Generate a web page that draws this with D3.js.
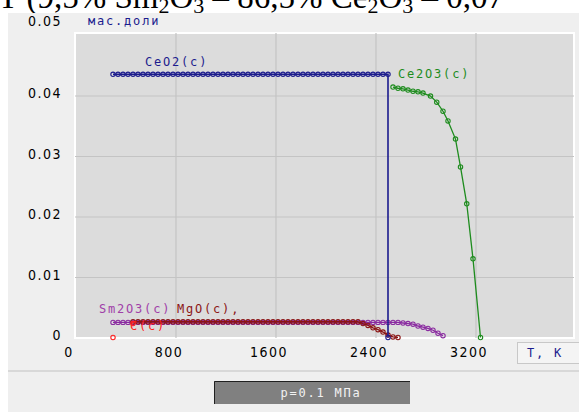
<!DOCTYPE html>
<html><head><meta charset="utf-8">
<script src="https://cdn.jsdelivr.net/npm/d3@7"></script>
<style>
html,body{margin:0;padding:0;background:#fff;}
svg{display:block;}
.px{font-family:"DejaVu Sans Mono",monospace;font-size:12px;letter-spacing:1.8px;}
.tick text{font-family:"Liberation Sans Narrow","DejaVu Sans Condensed","Liberation Sans",sans-serif;font-stretch:condensed;font-size:14px;fill:#000;letter-spacing:1.5px;}
</style></head>
<body>
<svg id="c" width="579" height="412"></svg>
<script>
// ---- data ----
const xTicks = [0, 800, 1600, 2400, 3200];
const yTicks = [0, 0.01, 0.02, 0.03, 0.04, 0.05];

const ceo2T = [300,340,380,420,460,500,540,580,620,660,700,740,780,820,860,900,940,980,1020,1060,1100,1140,1180,1220,1260,1300,1340,1380,1420,1460,1500,1540,1580,1620,1660,1700,1740,1780,1820,1860,1900,1940,1980,2020,2060,2100,2140,2180,2220,2260,2300,2340,2380,2420,2460,2500,2500];
const ceo2V = [0.0435,0.0435,0.0435,0.0435,0.0435,0.0435,0.0435,0.0435,
               0.0435,0.0435,0.0435,0.0435,0.0435,0.0435,0.0435,0.0435,
               0.0435,0.0435,0.0435,0.0435,0.0435,0.0435,0.0435,0.0435,
               0.0435,0.0435,0.0435,0.0435,0.0435,0.0435,0.0435,0.0435,
               0.0435,0.0435,0.0435,0.0435,0.0435,0.0435,0.0435,0.0435,
               0.0435,0.0435,0.0435,0.0435,0.0435,0.0435,0.0435,0.0435,
               0.0435,0.0435,0.0435,0.0435,0.0435,0.0435,0.0435,0.0435,0];

const ce2o3T = [2540,2580,2620,2660,2700,2740,2780,2840,2890,2940,2980,3040,3080,3130,3180,3240];
const ce2o3V = [0.0414,0.0412,0.0411,0.0409,0.0407,0.0406,0.0404,0.0399,0.0389,0.0374,0.0358,0.0328,0.0282,0.0221,0.0130,0.0];

const sm2o3T = [300,340,380,420,460,500,540,580,620,660,700,740,780,820,860,900,940,980,1020,1060,1100,1140,1180,1220,1260,1300,1340,1380,1420,1460,1500,1540,1580,1620,1660,1700,1740,1780,1820,1860,1900,1940,1980,2020,2060,2100,2140,2180,2220,2260,2300,2340,2380,2420,2460,2500,2540,2580,2620,2660,2700,2740,2780,2820,2860,2900,2940];
const sm2o3V = [0.0025,0.0025,0.0025,0.0025,0.0025,0.0025,0.0025,0.0025,
                0.0025,0.0025,0.0025,0.0025,0.0025,0.0025,0.0025,0.0025,
                0.0025,0.0025,0.0025,0.0025,0.0025,0.0025,0.0025,0.0025,
                0.0025,0.0025,0.0025,0.0025,0.0025,0.0025,0.0025,0.0025,
                0.0025,0.0025,0.0025,0.0025,0.0025,0.0025,0.0025,0.0025,
                0.0025,0.0025,0.0025,0.0025,0.0025,0.0025,0.0025,0.0025,
                0.0025,0.0025,0.0025,0.0025,0.0025,0.0025,0.0025,0.0025,
                0.0025,0.0025,0.0024,0.0023,0.0022,0.0019,0.0017,0.0015,0.0012,0.0007,0.0003];

const mgoT = [460,500,540,580,620,660,700,740,780,820,860,900,940,980,1020,1060,1100,1140,1180,1220,1260,1300,1340,1380,1420,1460,1500,1540,1580,1620,1660,1700,1740,1780,1820,1860,1900,1940,1980,2020,2060,2100,2140,2180,2220,2260,2300,2340,2380,2420,2460,2500,2540,2580];
const mgoV = [0.0026,0.0026,0.0026,0.0026,0.0026,0.0026,0.0026,0.0026,
              0.0026,0.0026,0.0026,0.0026,0.0026,0.0026,0.0026,0.0026,
              0.0026,0.0026,0.0026,0.0026,0.0026,0.0026,0.0026,0.0026,
              0.0026,0.0026,0.0026,0.0026,0.0026,0.0026,0.0026,0.0026,
              0.0026,0.0026,0.0026,0.0026,0.0026,0.0026,0.0026,0.0026,
              0.0026,0.0026,0.0026,0.0026,0.0026,0.0026,
              0.0023,0.0020,0.0016,0.0013,0.0009,0.0004,0.0001,0.0];

const cT = [300, 460];
const cV = [0.0, 0.0023];

// ---- layout ----
const svg = d3.select("#c");
const plot = {l:75, t:33, r:574, b:338};
const x = d3.scaleLinear().domain([0, 4000]).range([75.5, 575.5]);
const y = d3.scaleLinear().domain([0, 0.05]).range([337.5, 35]);

// title fragment (cut off at top)
const title = svg.append("text").attr("x", -2).attr("y", 8)
  .attr("font-family", "Liberation Serif, serif").attr("font-size", 33).attr("fill", "#000");
title.append("tspan").text("Т (9,5% Sm");
title.append("tspan").attr("font-size", 22).attr("dy", 5).text("2");
title.append("tspan").attr("dy", -5).text("O");
title.append("tspan").attr("font-size", 22).attr("dy", 5).text("3");
title.append("tspan").attr("dy", -5).text(" – 86,5% Ce");
title.append("tspan").attr("font-size", 22).attr("dy", 5).text("2");
title.append("tspan").attr("dy", -5).text("O");
title.append("tspan").attr("font-size", 22).attr("dy", 5).text("3");
title.append("tspan").attr("dy", -5).text(" – 0,07");

// panel
svg.append("rect").attr("x", 8).attr("y", 13).attr("width", 571).attr("height", 399).attr("fill", "#efefef");
// plot area
svg.append("rect").attr("x", plot.l).attr("y", plot.t).attr("width", plot.r - plot.l).attr("height", plot.b - plot.t)
  .attr("fill", "#dcdcdc").attr("stroke", "#ffffff").attr("stroke-width", 2);

// grid
const gx = svg.append("g").attr("transform", `translate(0,${plot.b})`)
  .call(d3.axisBottom(x).tickValues(xTicks.slice(1)).tickSize(-(plot.b - plot.t)).tickFormat(""));
gx.select(".domain").remove();
gx.selectAll("line").attr("stroke", "#c4c4c4").attr("stroke-width", 1.2);
const gy = svg.append("g").attr("transform", `translate(${plot.l},0)`)
  .call(d3.axisLeft(y).tickValues([0.01,0.02,0.03,0.04]).tickSize(-(plot.r - plot.l)).tickFormat(""));
gy.select(".domain").remove();
gy.selectAll("line").attr("stroke", "#c4c4c4").attr("stroke-width", 1.2);

// axis labels
const ax = svg.append("g").attr("transform", `translate(-7,352)`)
  .call(d3.axisBottom(x).tickValues(xTicks).tickSize(0).tickPadding(0).tickFormat(d3.format("d")));
ax.select(".domain").remove();
ax.selectAll("text").attr("dy", "0.35em");
const ay = svg.append("g").attr("transform", `translate(62,-2)`)
  .call(d3.axisLeft(y).tickValues(yTicks).tickSize(0).tickPadding(0).tickFormat(d => d === 0 ? "0" : d.toFixed(2)));
ay.select(".domain").remove();
ay.selectAll(".tick").filter(d => d === 0.05).attr("transform", "translate(0,24)");

// series
function drawSeries(T, V, color, withLine, lw) {
  const pts = T.map((t, i) => [t, V[i]]);
  if (withLine) {
    svg.append("path").datum(pts)
      .attr("d", d3.line().x(d => x(d[0])).y(d => y(d[1])))
      .attr("fill", "none").attr("stroke", color).attr("stroke-width", lw || 1.3);
  }
  svg.append("g").selectAll("circle").data(pts).join("circle")
    .attr("cx", d => x(d[0])).attr("cy", d => y(d[1])).attr("r", 2.2)
    .attr("fill", "none").attr("stroke", color).attr("stroke-width", 1.1);
}
drawSeries(sm2o3T, sm2o3V, "#8a2aa0", true);
drawSeries(mgoT, mgoV, "#8b1515", true);
drawSeries(cT, cV, "#ff2020", false);
drawSeries(ceo2T, ceo2V, "#1c1c8e", true, 1.6);
drawSeries(ce2o3T, ce2o3V, "#1e8c1e", true);

// series labels
function label(txt, xx, yy, color) {
  svg.append("text").attr("class", "px").attr("x", xx).attr("y", yy).attr("fill", color)
    .attr("dominant-baseline", "central").text(txt);
}
label("CeO2(c)", 145, 62, "#1c1c8e");
label("Ce2O3(c)", 398, 74, "#1e8c1e");
label("Sm2O3(c)", 99, 309, "#a040a8");
label("MgO(c),", 177, 309, "#8b1515");
label("C(c)", 130, 326, "#ff2020");
label("мас.доли", 88, 21, "#1c1c8e");

// T, K box
svg.append("rect").attr("x", 517.5).attr("y", 342.5).attr("width", 70).attr("height", 21)
  .attr("fill", "#f4f4f4").attr("stroke", "#c8c8c8");
label("T, K", 527, 353, "#1c1c8e");

// separator
svg.append("line").attr("x1", 8).attr("x2", 579).attr("y1", 371).attr("y2", 371).attr("stroke", "#d0d0d0").attr("stroke-width", 1.5);

// pressure box
svg.append("rect").attr("x", 214).attr("y", 381).attr("width", 196).attr("height", 23).attr("fill", "#808080");
svg.append("path").attr("d", "M214.5,404 V381.5 H410").attr("fill", "none").attr("stroke", "#202020").attr("stroke-width", 1);
svg.append("text").attr("class", "px").attr("x", 321).attr("y", 393).attr("text-anchor", "middle")
  .attr("dominant-baseline", "central").attr("fill", "#f2f2f2").text("p=0.1 МПа");
</script>
</body></html>
